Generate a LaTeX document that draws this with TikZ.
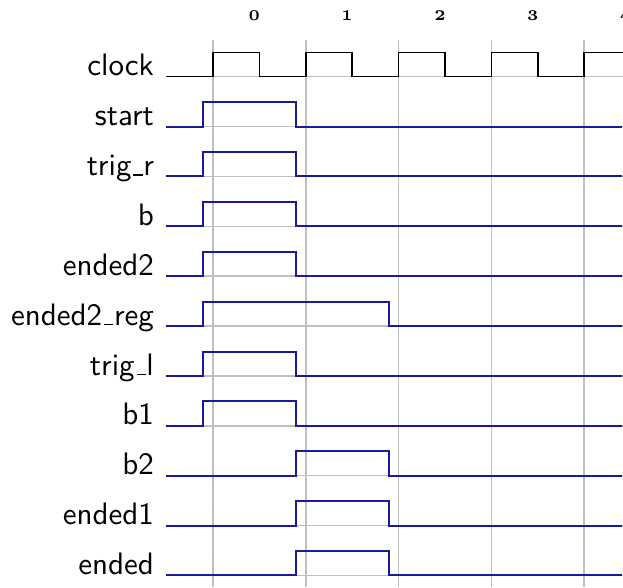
\documentclass[tikz,border=0pt]{standalone}
\definecolor{sig}{RGB}{25,25,160}
\newcommand\myus{\leavevmode\kern.06em\vbox{\hrule width .3em height 0.5pt}\kern.02em}
\begin{document}
\begin{tikzpicture}[x=0.3226pt,y=-0.3226pt,
  gridline/.style={black!25,line width=0.5pt},
  wave/.style={sig,line width=0.65pt},
  clk/.style={black,line width=0.5pt},
  lab/.style={anchor=base east,inner sep=0pt,font=\sffamily},
  num/.style={font=\fontsize{4.8}{5}\selectfont\bfseries,inner sep=0pt}]
\useasboundingbox (0,0) rectangle (623,587);
\clip (0,0) rectangle (623,587);
% grid
\foreach \k in {0,...,4}
  \draw[gridline] ({213+92.8*\k},40) -- ({213+92.8*\k},587);
\foreach \i in {0,...,10}
  \draw[gridline] (166,{76.7+49.87*\i}) -- (623,{76.7+49.87*\i});
% column numbers
\foreach \k in {0,...,4}
  \node[num] (n\k) at ({254.3+92.8*\k},16) {\k};
% labels
\foreach \t [count=\i from 0] in {clock,start,trig\myus r,b,ended2,ended2\myus reg,trig\myus l,b1,b2,ended1,ended}
  \node[lab] (l\i) at (154.5,{75.9+49.87*\i}) {\t};
% clock
\draw[clk] (166,76.7) -- (213,76.7) -- (213,52.3) -- (259.4,52.3) -- (259.4,76.7)
  -- (305.8,76.7) -- (305.8,52.3) -- (352.2,52.3) -- (352.2,76.7)
  -- (398.6,76.7) -- (398.6,52.3) -- (445,52.3) -- (445,76.7)
  -- (491.4,76.7) -- (491.4,52.3) -- (537.8,52.3) -- (537.8,76.7)
  -- (584.2,76.7) -- (584.2,52.3) -- (630,52.3);
% signals
\foreach \i/\a/\b in {1/203.3/296.1,2/203.3/296.1,3/203.3/296.1,4/203.3/296.1,
  5/203.3/388.9,6/203.3/296.1,7/203.3/296.1,8/296.1/388.9,9/296.1/388.9,10/296.1/388.9}{
  \pgfmathsetmacro\L{76.7+49.87*\i}
  \pgfmathsetmacro\H{\L-24.4}
  \draw[wave] (166,\L) -- (\a,\L) -- (\a,\H) -- (\b,\H) -- (\b,\L) -- (622,\L);
}
\end{tikzpicture}
\end{document}
